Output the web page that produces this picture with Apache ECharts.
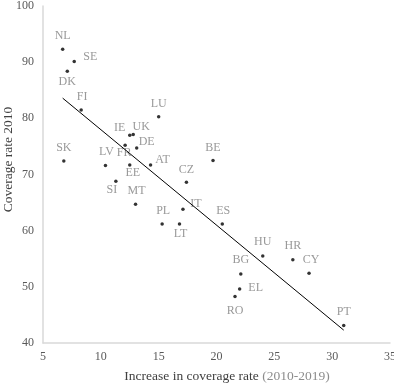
<!DOCTYPE html>
<html>
<head>
<meta charset="utf-8">
<script src="https://cdn.jsdelivr.net/npm/echarts@6/dist/echarts.min.js"></script>
<style>html,body{margin:0;padding:0;background:#fff}#c{width:394px;height:383px}</style>
</head>
<body>
<div id="c"></div>
<script>
// Data
const countries = ['NL','SE','DK','FI','LU','IE','UK','FR','DE','SK','LV','EE','AT','SI','CZ','BE','MT','PL','LT','IT','ES','HU','HR','CY','BG','EL','RO','PT'];
const increase  = [6.7, 7.7, 7.1, 8.3, 15.0, 12.5, 12.8, 12.1, 13.1, 6.8, 10.4, 12.5, 14.3, 11.3, 17.4, 19.7, 13.0, 15.3, 16.8, 17.1, 20.5, 24.0, 26.6, 28.0, 22.1, 22.0, 21.6, 31.0];
const coverage2010 = [92.3, 90.1, 88.4, 81.5, 80.3, 77.0, 77.1, 75.2, 74.7, 72.4, 71.6, 71.7, 71.7, 68.8, 68.6, 72.5, 64.7, 61.2, 61.2, 63.8, 61.2, 55.5, 54.8, 52.4, 52.3, 49.6, 48.3, 43.1];
const xTicks = [5, 35, 5];   // min, max, interval
const yTicks = [40, 100, 10];

// Label placement (style): offset of label centre from the dot, px
const labelOffset = {
  NL:[0,-13], SE:[16,-5], DK:[0,11], FI:[1,-13], LU:[0,-13], IE:[-10,-7], UK:[8,-8],
  DE:[10,-6], FR:[-1,8], SK:[0,-13], LV:[1,-14], EE:[3,8], AT:[12,-5], SI:[-4,9],
  CZ:[0,-13], BE:[0,-13], MT:[1,-13], PL:[1,-13], LT:[1,10], IT:[13,-5], ES:[1,-13],
  HU:[0,-14], HR:[0,-14], CY:[2,-14], BG:[0,-14], EL:[16,-1], RO:[0,14], PT:[0,-14]
};

// Linear trendline (least squares) computed from the data
const n = increase.length;
const mx = increase.reduce((a,b)=>a+b,0)/n;
const my = coverage2010.reduce((a,b)=>a+b,0)/n;
let sxy=0, sxx=0;
for (let i=0;i<n;i++){ sxy += (increase[i]-mx)*(coverage2010[i]-my); sxx += (increase[i]-mx)**2; }
const slope = sxy/sxx, icpt = my - slope*mx;
const xmin = Math.min(...increase), xmax = Math.max(...increase);
const trend = [[xmin, icpt+slope*xmin],[xmax, icpt+slope*xmax]];

const font = 'Liberation Serif';
const points = countries.map((c,i)=>({
  value:[increase[i], coverage2010[i]],
  name:c,
  label:{show:true, position:'inside', offset:labelOffset[c], formatter:c,
         color:'#808080', fontFamily:font, fontSize:12}
}));

const chart = echarts.init(document.getElementById('c'), null, {renderer:'canvas'});
chart.setOption({
  animation:false,
  grid:{left:43, right:4, top:6, bottom:40, containLabel:false, outerBoundsMode:'none'},
  xAxis:{
    type:'value', min:xTicks[0], max:xTicks[1], interval:xTicks[2],
    splitLine:{show:false}, axisTick:{show:false},
    axisLine:{show:true, lineStyle:{color:'#d9d9d9', width:1.5}},
    axisLabel:{color:'#595959', fontFamily:font, fontSize:12, margin:8},
    name:'{a|Increase in coverage rate }{b|(2010-2019)}',
    nameLocation:'middle', nameGap:26, nameMoveOverlap:false,
    nameTextStyle:{padding:[0,0,0,21], rich:{
      a:{color:'#404040', fontFamily:font, fontSize:13.5},
      b:{color:'#8c8c8c', fontFamily:font, fontSize:13.5}}}
  },
  yAxis:{
    type:'value', min:yTicks[0], max:yTicks[1], interval:yTicks[2],
    splitLine:{show:false}, axisTick:{show:false},
    axisLine:{show:true, lineStyle:{color:'#d9d9d9', width:1.5}},
    axisLabel:{color:'#595959', fontFamily:font, fontSize:12, margin:9},
    name:'Coverage rate 2010', nameLocation:'middle', nameGap:28, nameMoveOverlap:false,
    nameTextStyle:{color:'#404040', fontFamily:font, fontSize:13.5, padding:[0,0,0,30]}
  },
  series:[
    {type:'line', data:trend, symbol:'none', silent:true,
     lineStyle:{color:'#000', width:1}},
    {type:'scatter', data:points, symbolSize:3.5, itemStyle:{color:'#000'}}
  ]
});
</script>
</body>
</html>
